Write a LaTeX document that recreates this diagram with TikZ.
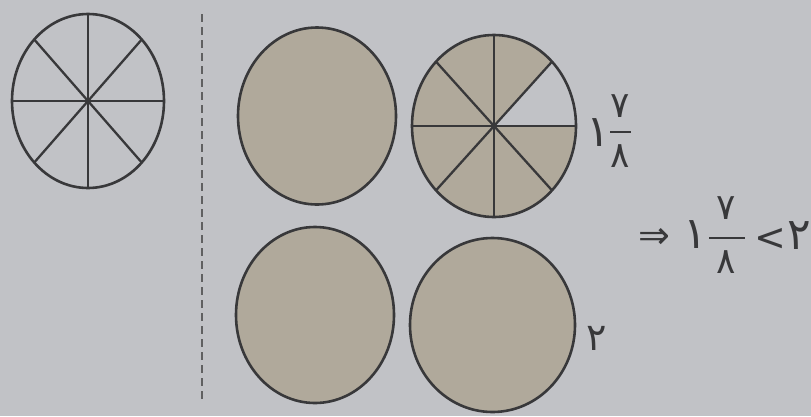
\documentclass[tikz,border=0pt]{standalone}
\usepackage{fontspec}
\usetikzlibrary{calc}
\newfontfamily\arabicfont[Script=Arabic]{DejaVu Sans}
\newfontfamily\symfont{DejaVu Sans}
\definecolor{bg}{HTML}{C1C2C6}
\definecolor{tanfill}{HTML}{B0A99B}
\definecolor{ink}{HTML}{38383A}
\tikzset{
  disc/.style={draw=ink, line width=2.6pt},
  spoke/.style={draw=ink, line width=2.3pt},
  digit/.style={inner sep=0pt, text=ink, font=\arabicfont\fontsize{44}{44}\selectfont},
  twodigit/.style={inner sep=0pt, text=ink, font=\arabicfont\fontsize{38}{38}\selectfont},
  fdigit/.style={inner sep=0pt, text=ink, font=\arabicfont\fontsize{36}{36}\selectfont},
  sym/.style={inner sep=0pt, text=ink, font=\symfont\fontsize{38}{38}\selectfont},
  fracbar/.style={draw=ink, line width=2pt}
}
\begin{document}
\begin{tikzpicture}[x=1pt,y=-1pt]
\fill[bg] (0,0) rectangle (811,416);
\useasboundingbox (0,0) rectangle (811,416);

% left divided circle (unshaded)
\coordinate (c1) at (88,101);
\draw[disc] (c1) ellipse [x radius=76, y radius=87];
\foreach \a in {0,45,90,135} {
  \draw[spoke] ($(c1)+({76*cos(\a)},{-87*sin(\a)})$) -- ($(c1)+({-76*cos(\a)},{87*sin(\a)})$);
}
\fill[ink] (c1) circle (3);

% dashed divider
\coordinate (dtop) at (202,14);
\coordinate (dbot) at (202,402);
\draw[draw=ink!80, line width=2.2pt, dash pattern=on 8pt off 5pt] (dtop) -- (dbot);

% top middle full circle
\coordinate (c2) at (317,116);
\filldraw[disc, fill=tanfill] (c2) ellipse [x radius=79, y radius=88.5];

% top right circle: 7 of 8 sectors filled
\coordinate (c3) at (494,126);
\fill[bg] (c3) ellipse [x radius=82, y radius=91];
\foreach \a in {45,90,...,315} {
  \fill[tanfill] (c3) -- ($(c3)+({82*cos(\a)},{-91*sin(\a)})$)
    arc [start angle=\a, end angle=\a+45, x radius=82, y radius=-91] -- cycle;
}
\draw[disc] (c3) ellipse [x radius=82, y radius=91];
\foreach \a in {0,45,90,135} {
  \draw[spoke] ($(c3)+({82*cos(\a)},{-91*sin(\a)})$) -- ($(c3)+({-82*cos(\a)},{91*sin(\a)})$);
}
\fill[ink] (c3) circle (3);

% bottom circles
\coordinate (c4) at (315,315);
\filldraw[disc, fill=tanfill] (c4) ellipse [x radius=79, y radius=88];
\coordinate (c5) at (492.5,325);
\filldraw[disc, fill=tanfill] (c5) ellipse [x radius=82.5, y radius=87];

% label 1 7/8
\node[digit] (w1) at (598,133) {۱};
\node[fdigit] (n1) at (620,106) {۷};
\node[fdigit] (d1) at (620,156) {۸};
\coordinate (b1l) at (610,132);
\coordinate (b1r) at (631,132);
\draw[fracbar] (b1l) -- (b1r);

% label 2
\node[twodigit] (two1) at (597,338) {۲};

% right expression
\node[sym] (imp) at (654,238) {⇒};
\node[digit] (w2) at (695,235) {۱};
\node[fdigit] (n2) at (726,208) {۷};
\node[fdigit] (d2) at (726,262) {۸};
\coordinate (b2l) at (709,238);
\coordinate (b2r) at (745,238);
\draw[fracbar] (b2l) -- (b2r);
\node[sym] (lt) at (770,239) {<};
\node[digit] (two2) at (799,236) {۲};
\end{tikzpicture}
\end{document}
